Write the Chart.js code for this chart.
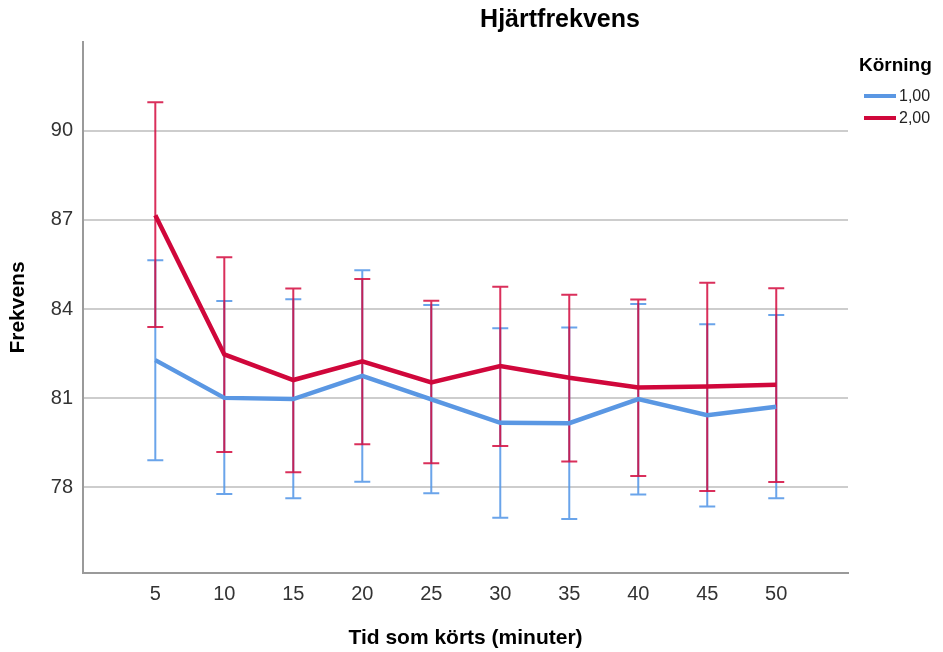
<!DOCTYPE html>
<html>
<head>
<meta charset="utf-8">
<script src="https://cdn.jsdelivr.net/npm/chart.js@4/dist/chart.umd.min.js"></script>
<style>
  html, body { margin: 0; padding: 0; background: #ffffff; }
  #wrap { width: 943px; height: 652px; position: relative; }
</style>
</head>
<body>
<div id="wrap"><canvas id="chart" width="943" height="652"></canvas></div>
<script>
// Minutes driven (x categories)
const minutes = [5, 10, 15, 20, 25, 30, 35, 40, 45, 50];
// Run 1,00: mean heart rate and error-bar ends
const run1Mean = [82.28, 81.01, 80.97, 81.75, 80.96, 80.17, 80.16, 80.97, 80.43, 80.71];
const run1Low  = [78.91, 77.78, 77.63, 78.19, 77.80, 76.98, 76.94, 77.76, 77.36, 77.63];
const run1High = [85.64, 84.27, 84.33, 85.30, 84.13, 83.35, 83.38, 84.17, 83.49, 83.80];
// Run 2,00: mean heart rate and error-bar ends
const run2Mean = [87.15, 82.47, 81.61, 82.24, 81.53, 82.08, 81.69, 81.36, 81.39, 81.45];
const run2Low  = [83.39, 79.19, 78.51, 79.45, 78.81, 79.39, 78.87, 78.38, 77.88, 78.18];
const run2High = [90.95, 85.74, 84.69, 85.01, 84.28, 84.75, 84.48, 84.32, 84.88, 84.70];
// Y tick labels
const yTicks = [78, 81, 84, 87, 90];
const seriesNames = ['1,00', '2,00'];

const FONT = "'Liberation Sans', Arial, Helvetica, sans-serif";
const BLUE = '#5a97e3';
const RED = '#d0073b';
const BLUE_BAR = 'rgba(90,154,232,0.9)';
const RED_BAR = 'rgba(212,10,62,0.85)';

const toPoints = (vals) => minutes.map((m, i) => ({ x: m, y: vals[i] }));

// Error bars drawn through the chart's own scales
const errorBars = {
  id: 'errorBars',
  beforeDatasetsDraw(chart) {
    const { ctx, scales: { x, y } } = chart;
    const sets = [
      { low: run1Low, high: run1High, color: BLUE_BAR },
      { low: run2Low, high: run2High, color: RED_BAR }
    ];
    ctx.save();
    ctx.lineWidth = 2;
    sets.forEach(s => {
      ctx.strokeStyle = s.color;
      minutes.forEach((m, i) => {
        const px = x.getPixelForValue(m);
        const yl = y.getPixelForValue(s.low[i]);
        const yh = y.getPixelForValue(s.high[i]);
        const half = 8;
        ctx.beginPath();
        ctx.moveTo(px, yl); ctx.lineTo(px, yh);
        ctx.moveTo(px - half, yl); ctx.lineTo(px + half, yl);
        ctx.moveTo(px - half, yh); ctx.lineTo(px + half, yh);
        ctx.stroke();
      });
    });
    ctx.restore();
  }
};

// Chart title and the "Körning" legend on the right
const decorations = {
  id: 'decorations',
  afterDraw(chart) {
    const { ctx } = chart;
    ctx.save();
    ctx.fillStyle = '#000';
    ctx.textBaseline = 'middle';
    ctx.textAlign = 'center';
    ctx.font = `bold 25px ${FONT}`;
    ctx.fillText('Hjärtfrekvens', 560, 20);

    ctx.textAlign = 'left';
    ctx.font = `bold 19px ${FONT}`;
    ctx.fillText('Körning', 859, 66);

    const colors = [BLUE, RED];
    const rows = [96, 118];
    ctx.font = `16px ${FONT}`;
    seriesNames.forEach((name, i) => {
      ctx.strokeStyle = colors[i];
      ctx.lineWidth = 4;
      ctx.beginPath();
      ctx.moveTo(864, rows[i]);
      ctx.lineTo(896, rows[i]);
      ctx.stroke();
      ctx.fillStyle = '#222';
      ctx.fillText(name, 899, rows[i] + 1);
    });
    ctx.restore();
  }
};

new Chart(document.getElementById('chart'), {
  type: 'line',
  data: {
    datasets: [
      { label: seriesNames[0], data: toPoints(run1Mean), borderColor: BLUE, borderWidth: 4.5, pointRadius: 0, tension: 0, fill: false },
      { label: seriesNames[1], data: toPoints(run2Mean), borderColor: RED, borderWidth: 4.5, pointRadius: 0, tension: 0, fill: false }
    ]
  },
  options: {
    responsive: false,
    animation: false,
    events: [],
    layout: { padding: { top: 42, right: 95, left: 0, bottom: 0 } },
    plugins: {
      legend: { display: false },
      title: { display: false },
      tooltip: { enabled: false }
    },
    scales: {
      x: {
        type: 'linear',
        min: -0.24,
        max: 55.2,
        afterBuildTicks: (axis) => { axis.ticks = minutes.map(v => ({ value: v })); },
        afterFit: (axis) => { axis.height = 79; },
        grid: { display: false, drawTicks: false },
        border: { display: true, color: '#9a9a9a', width: 2 },
        ticks: { padding: 9, color: '#333', font: { family: FONT, size: 20 }, autoSkip: false, maxRotation: 0 },
        title: { display: true, text: 'Tid som körts (minuter)', color: '#000', font: { family: FONT, size: 21, weight: 'bold' }, padding: { top: 0, bottom: 1.5 } }
      },
      y: {
        type: 'linear',
        min: 75.12,
        max: 92.98,
        afterBuildTicks: (axis) => { axis.ticks = yTicks.map(v => ({ value: v })); },
        afterFit: (axis) => { axis.width = 83; },
        grid: { color: '#cdcdcd', lineWidth: 2, drawTicks: false },
        border: { display: true, color: '#9a9a9a', width: 2 },
        ticks: { padding: 10, color: '#333', font: { family: FONT, size: 20 } },
        title: { display: true, text: 'Frekvens', color: '#000', font: { family: FONT, size: 21, weight: 'bold' }, padding: { top: 6, bottom: 0 } }
      }
    }
  },
  plugins: [errorBars, decorations]
});
</script>
</body>
</html>
